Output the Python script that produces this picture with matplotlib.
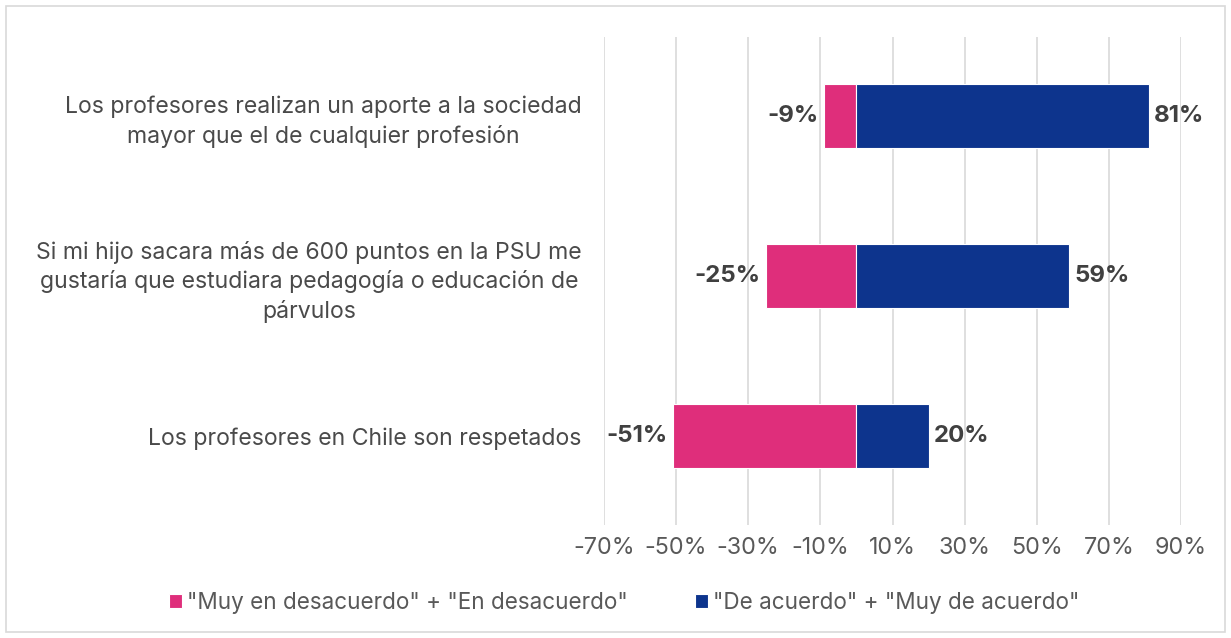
import matplotlib
matplotlib.use("Agg")
import matplotlib.pyplot as plt
from matplotlib.patches import Rectangle

plt.rcParams['font.family'] = ['Inter', 'DejaVu Sans']

categories = [
    "Los profesores realizan un aporte a la sociedad\nmayor que el de cualquier profesión",
    "Si mi hijo sacara más de 600 puntos en la PSU me\ngustaría que estudiara pedagogía o educación de\npárvulos",
    "Los profesores en Chile son respetados",
]
disagree = [-9, -25, -51]
agree = [81, 59, 20]
ticks = [-70, -50, -30, -10, 10, 30, 50, 70, 90]
series_names = ['"Muy en desacuerdo" + "En desacuerdo"', '"De acuerdo" + "Muy de acuerdo"']
pink = "#DF2E7B"
blue = "#0D348D"

fig = plt.figure(figsize=(12.31, 6.38), dpi=100)
fig.patches.append(Rectangle((6/1231, 1 - 632/638), 1219/1231, 626/638, transform=fig.transFigure,
                             fill=False, edgecolor="#D9D9D9", linewidth=1.2))
ax = fig.add_axes([604/1231, 1 - 525/638, 577/1231, 488/638])

y = list(range(len(categories)))
ax.barh(y, disagree, height=0.4, color=pink, edgecolor="white", linewidth=0.8, label=series_names[0], zorder=3)
ax.barh(y, agree, height=0.4, color=blue, edgecolor="white", linewidth=0.8, label=series_names[1], zorder=3)

for yi, d, a in zip(y, disagree, agree):
    ax.text(d - 1.5, yi, f"{d}%", ha="right", va="center", fontsize=17.3, fontweight="bold", color="#404040")
    ax.text(a + 1.5, yi, f"{a}%", ha="left", va="center", fontsize=17.3, fontweight="bold", color="#404040")

ax.set_xlim(-70, 90)
ax.set_ylim(2.556, -0.494)
ax.set_xticks(ticks)
ax.set_xticklabels([f"{t}%" for t in ticks], fontsize=16.8, color="#595959")
ax.xaxis.grid(True, color="#D9D9D9", linewidth=1.2, zorder=0)
ax.set_axisbelow(True)
ax.tick_params(axis="x", length=0, pad=9)
ax.tick_params(axis="y", length=0, pad=16)
ax.set_yticks(y)
ax.set_yticklabels(categories, fontsize=16.6, color="#4a4a4a")
for lbl in ax.get_yticklabels():
    lbl.set_multialignment("center")
    lbl.set_linespacing(1.38)
for s in ax.spines.values():
    s.set_visible(False)

fig.legend(loc="center", bbox_to_anchor=(624/1231, 1 - 603/638), ncol=2, frameon=False,
           prop={"size": 16.2},
           handlelength=0.6, handleheight=0.6, handletextpad=0.2, columnspacing=3.0,
           labelcolor="#595959")

fig.savefig("out.png", dpi=100)
